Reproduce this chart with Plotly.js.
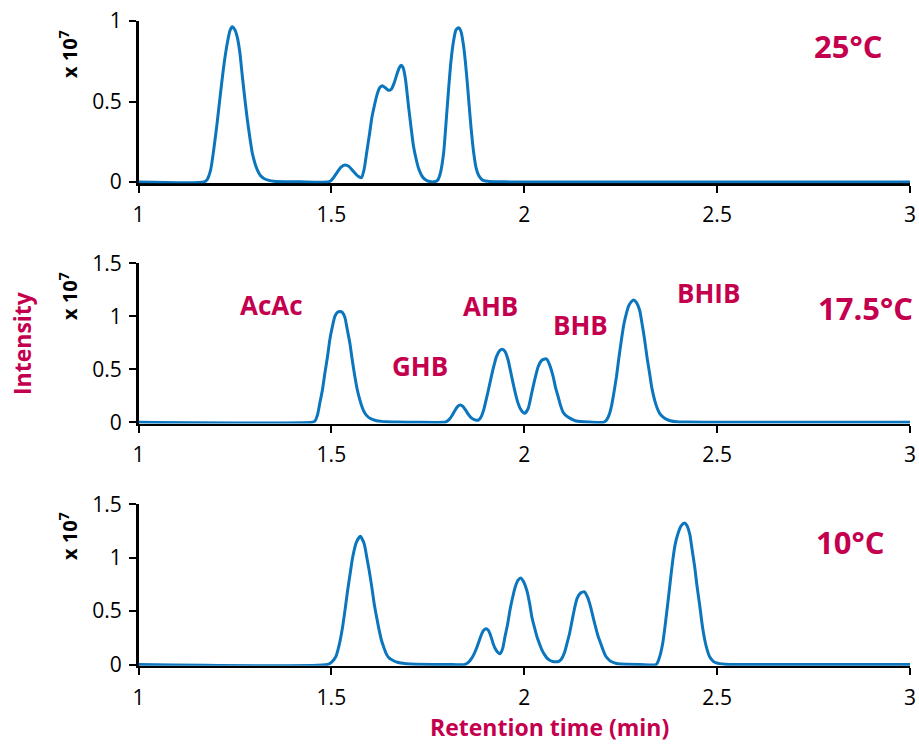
<!DOCTYPE html>
<html>
<head>
<meta charset="utf-8">
<script src="https://cdn.plot.ly/plotly-3.0.1.min.js"></script>
<style>html,body{margin:0;padding:0;background:#fff;}#chart{width:919px;height:746px;}</style>
</head>
<body>
<div id="chart"></div>
<script>
// Retention time (min), intensity (x 10^7) pairs
const trace25C = [[1.00,0],[1.17,0],[1.178,0.015],[1.187,0.075],[1.195,0.20],[1.203,0.35],[1.212,0.54],[1.221,0.72],[1.230,0.86],[1.237,0.94],[1.243,0.965],[1.250,0.945],[1.256,0.90],[1.263,0.80],[1.269,0.66],[1.276,0.51],[1.282,0.39],[1.289,0.27],[1.295,0.18],[1.302,0.115],[1.308,0.075],[1.316,0.04],[1.325,0.022],[1.338,0.01],[1.351,0.005],[1.38,0.002],[1.42,0.001],[1.49,0],[1.497,0.005],[1.505,0.025],[1.515,0.06],[1.525,0.092],[1.535,0.106],[1.545,0.098],[1.555,0.072],[1.565,0.045],[1.572,0.032],[1.578,0.027],[1.585,0.08],[1.592,0.19],[1.599,0.30],[1.605,0.40],[1.612,0.48],[1.618,0.54],[1.625,0.585],[1.632,0.598],[1.640,0.585],[1.648,0.57],[1.655,0.575],[1.662,0.61],[1.670,0.67],[1.676,0.71],[1.681,0.725],[1.686,0.71],[1.692,0.64],[1.700,0.47],[1.707,0.33],[1.713,0.22],[1.720,0.14],[1.726,0.085],[1.733,0.045],[1.739,0.024],[1.746,0.011],[1.752,0.005],[1.765,0.001],[1.775,0.01],[1.782,0.05],[1.791,0.18],[1.797,0.36],[1.804,0.58],[1.810,0.75],[1.817,0.88],[1.823,0.945],[1.830,0.958],[1.836,0.935],[1.843,0.84],[1.850,0.68],[1.856,0.51],[1.862,0.34],[1.869,0.18],[1.875,0.09],[1.882,0.04],[1.889,0.018],[1.895,0.008],[1.91,0.003],[1.95,0.001],[2.0,0],[3.0,0]];

const trace17C = [[1.00,0],[1.45,0],[1.457,0.01],[1.464,0.07],[1.470,0.18],[1.477,0.31],[1.483,0.46],[1.490,0.62],[1.496,0.78],[1.503,0.91],[1.509,1.0],[1.515,1.035],[1.522,1.045],[1.529,1.035],[1.535,0.99],[1.541,0.88],[1.548,0.745],[1.554,0.59],[1.561,0.43],[1.567,0.31],[1.574,0.21],[1.580,0.14],[1.587,0.085],[1.594,0.055],[1.600,0.038],[1.608,0.025],[1.617,0.015],[1.630,0.009],[1.643,0.006],[1.67,0.003],[1.72,0.001],[1.79,0],[1.797,0.005],[1.805,0.025],[1.813,0.065],[1.820,0.11],[1.827,0.148],[1.834,0.163],[1.841,0.15],[1.848,0.115],[1.855,0.075],[1.862,0.045],[1.869,0.028],[1.876,0.02],[1.881,0.02],[1.888,0.05],[1.895,0.12],[1.903,0.24],[1.911,0.37],[1.919,0.50],[1.928,0.62],[1.936,0.675],[1.943,0.69],[1.950,0.67],[1.958,0.59],[1.964,0.49],[1.971,0.37],[1.978,0.26],[1.984,0.18],[1.992,0.115],[2.001,0.085],[2.010,0.13],[2.019,0.27],[2.027,0.40],[2.036,0.525],[2.044,0.58],[2.051,0.595],[2.058,0.597],[2.066,0.54],[2.075,0.43],[2.081,0.33],[2.088,0.24],[2.094,0.16],[2.100,0.10],[2.109,0.06],[2.118,0.04],[2.135,0.012],[2.17,0.003],[2.205,0],[2.213,0.02],[2.220,0.07],[2.226,0.15],[2.232,0.27],[2.239,0.43],[2.245,0.60],[2.252,0.78],[2.258,0.92],[2.265,1.03],[2.271,1.10],[2.278,1.14],[2.284,1.154],[2.291,1.13],[2.299,1.06],[2.305,0.94],[2.312,0.78],[2.318,0.62],[2.325,0.46],[2.331,0.32],[2.338,0.21],[2.345,0.13],[2.351,0.085],[2.360,0.05],[2.368,0.03],[2.381,0.012],[2.394,0.005],[2.42,0.002],[2.5,0],[3.0,0]];

const trace10C = [[1.00,0],[1.49,0],[1.500,0.02],[1.511,0.07],[1.520,0.18],[1.529,0.35],[1.535,0.50],[1.542,0.69],[1.549,0.86],[1.555,1.0],[1.565,1.145],[1.575,1.20],[1.585,1.13],[1.592,1.0],[1.598,0.88],[1.605,0.72],[1.611,0.57],[1.618,0.43],[1.624,0.32],[1.630,0.225],[1.637,0.15],[1.643,0.095],[1.650,0.06],[1.659,0.04],[1.668,0.025],[1.680,0.014],[1.694,0.008],[1.72,0.003],[1.80,0.001],[1.846,0],[1.855,0.02],[1.864,0.06],[1.870,0.10],[1.877,0.16],[1.884,0.23],[1.890,0.29],[1.896,0.325],[1.901,0.336],[1.907,0.32],[1.913,0.27],[1.919,0.20],[1.924,0.155],[1.930,0.12],[1.937,0.10],[1.944,0.15],[1.950,0.26],[1.957,0.38],[1.963,0.51],[1.970,0.63],[1.977,0.73],[1.984,0.79],[1.991,0.81],[1.999,0.77],[2.007,0.69],[2.014,0.57],[2.020,0.44],[2.027,0.34],[2.033,0.26],[2.040,0.19],[2.046,0.135],[2.053,0.09],[2.059,0.06],[2.066,0.04],[2.074,0.028],[2.081,0.025],[2.090,0.03],[2.098,0.06],[2.105,0.12],[2.111,0.20],[2.118,0.30],[2.124,0.41],[2.130,0.52],[2.137,0.62],[2.146,0.67],[2.156,0.68],[2.164,0.63],[2.172,0.54],[2.178,0.45],[2.185,0.35],[2.191,0.27],[2.198,0.20],[2.205,0.13],[2.211,0.08],[2.218,0.05],[2.224,0.03],[2.237,0.012],[2.250,0.005],[2.30,0.001],[2.342,0],[2.350,0.06],[2.359,0.20],[2.365,0.36],[2.372,0.57],[2.378,0.76],[2.385,0.975],[2.391,1.12],[2.398,1.22],[2.407,1.30],[2.416,1.325],[2.422,1.30],[2.429,1.22],[2.435,1.08],[2.442,0.91],[2.448,0.73],[2.455,0.55],[2.461,0.38],[2.468,0.23],[2.474,0.14],[2.481,0.07],[2.490,0.03],[2.498,0.015],[2.52,0.003],[2.6,0],[3.0,0]];

const temperatures = ["25°C", "17.5°C", "10°C"];
const xTicks = [1, 1.5, 2, 2.5, 3];
const yTicksTop = [0, 0.5, 1];
const yTicksLower = [0, 0.5, 1, 1.5];
const compoundLabels = ["AcAc", "GHB", "AHB", "BHB", "BHIB"];

const BLUE = "#0b76bd";
const RED = "#c4004e";
const FONT = "Open Sans, sans-serif";

function mk(pairs, xa, ya) {
  return {
    x: pairs.map(p => p[0]), y: pairs.map(p => p[1]),
    xaxis: xa, yaxis: ya, type: "scatter", mode: "lines",
    line: {color: BLUE, width: 3, shape: "spline", smoothing: 0.6},
    hoverinfo: "skip"
  };
}

const data = [mk(trace25C, "x", "y"), mk(trace17C, "x2", "y2"), mk(trace10C, "x3", "y3")];

const xDomain = [138.5/919, 910/919];
function xax(anchor) {
  return {
    domain: xDomain, anchor: anchor, range: [1, 3], tickvals: xTicks,
    showline: true, linecolor: "#000", linewidth: 2.5, mirror: false,
    ticks: "outside", ticklen: 7, tickwidth: 2, tickcolor: "#000",
    showgrid: false, zeroline: false, layer: "below traces",
    tickfont: {family: FONT, size: 21, color: "#000"}, ticklabelstandoff: 4
  };
}
function yax(anchor, domain, range, ticks) {
  return {
    domain: domain, anchor: anchor, range: range, tickvals: ticks,
    showline: true, linecolor: "#000", linewidth: 2.5,
    ticks: "outside", ticklen: 7, tickwidth: 2, tickcolor: "#000",
    showgrid: false, zeroline: false, layer: "below traces",
    tickfont: {family: FONT, size: 21, color: "#000"}, ticklabelstandoff: 3
  };
}

function px(xp, yp) { return {x: xp/919, y: 1 - yp/746}; }
const anns = [];
function ann(text, xp, yp, size, color, angle) {
  const p = px(xp, yp);
  anns.push({text: text, x: p.x, y: p.y, xref: "paper", yref: "paper",
    xanchor: "center", yanchor: "middle", showarrow: false,
    textangle: angle || 0,
    font: {family: FONT, size: size, color: color, weight: 700}});
}
// temperature labels
ann(temperatures[0], 848, 46, 31, RED);
ann(temperatures[1], 865, 308, 31, RED);
ann(temperatures[2], 850, 542, 31, RED);
// compound labels
ann(compoundLabels[0], 271, 305, 26, RED);
ann(compoundLabels[1], 420, 366, 26, RED);
ann(compoundLabels[2], 490, 306, 26, RED);
ann(compoundLabels[3], 580, 325, 26, RED);
ann(compoundLabels[4], 708, 293, 26, RED);
// exponent labels
ann("x 10<sup>7</sup>", 68, 54, 20, "#000", -90);
ann("x 10<sup>7</sup>", 68, 296, 20, "#000", -90);
ann("x 10<sup>7</sup>", 68, 536, 20, "#000", -90);
// axis titles
ann("Intensity", 22, 343, 23, RED, -90);
ann("Retention time (min)", 549, 727, 23, RED);

const layout = {
  width: 919, height: 746,
  margin: {l: 0, r: 0, t: 0, b: 0},
  paper_bgcolor: "#fff", plot_bgcolor: "rgba(0,0,0,0)",
  showlegend: false,
  xaxis: xax("y"), xaxis2: xax("y2"), xaxis3: xax("y3"),
  yaxis: yax("x", [1 - 183.3/746, 1 - 21/746], [-0.008, 1], yTicksTop),
  yaxis2: yax("x2", [1 - 423.6/746, 1 - 263.3/746], [-0.012, 1.5], yTicksLower),
  yaxis3: yax("x3", [1 - 665.8/746, 1 - 504.3/746], [-0.012, 1.5], yTicksLower),
  annotations: anns
};

Plotly.newPlot("chart", data, layout, {staticPlot: true, displayModeBar: false});
</script>
</body>
</html>
